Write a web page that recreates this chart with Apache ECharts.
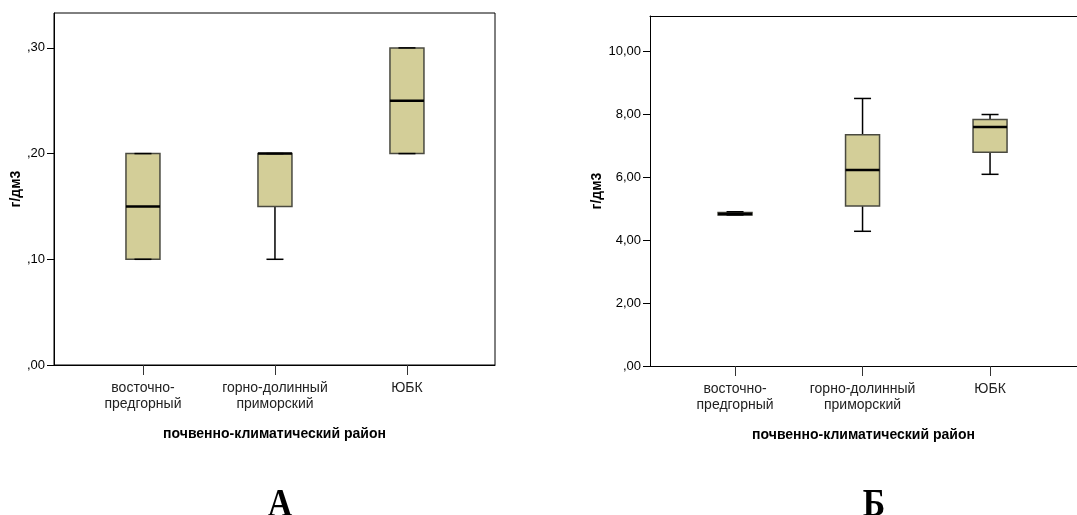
<!DOCTYPE html>
<html>
<head>
<meta charset="utf-8">
<script src="https://cdn.jsdelivr.net/npm/echarts@6/dist/echarts.min.js"></script>
<style>
  html, body { margin: 0; padding: 0; background: #fff; }
  #chart { width: 1077px; height: 515px; }
</style>
</head>
<body>
<div id="chart"></div>
<script>
// районы (категории оси X)
var categories = ['восточно-\nпредгорный', 'горно-долинный\nприморский', 'ЮБК'];

// [min, Q1, медиана, Q3, max] для каждого района
var boxA = [
    [0.10, 0.10, 0.15, 0.20, 0.20],
    [0.10, 0.15, 0.20, 0.20, 0.20],
    [0.20, 0.20, 0.25, 0.30, 0.30]
];
var boxB = [
    [4.80, 4.80, 4.83, 4.88, 4.90],
    [4.28, 5.08, 6.23, 7.35, 8.50],
    [6.09, 6.79, 7.59, 7.83, 7.99]
];

var ticksA = [0, 0.1, 0.2, 0.3];
var ticksB = [0, 2, 4, 6, 8, 10];
var catTicks = [0, 1, 2];

var font = 'Liberation Sans';

function spssNum(v) {
    var s = v.toFixed(2).replace('.', ',');
    if (s.indexOf('0,') === 0) s = s.slice(1);
    return s;
}

function toRows(box) {
    return box.map(function (b, i) { return [i].concat(b); });
}

function renderBox(params, api) {
    var x = api.value(0);
    var pMin = api.coord([x, api.value(1)]);
    var pQ1 = api.coord([x, api.value(2)]);
    var pMed = api.coord([x, api.value(3)]);
    var pQ3 = api.coord([x, api.value(4)]);
    var pMax = api.coord([x, api.value(5)]);
    var cx = pMed[0];
    var bw = 34, cw = 17;
    var line = { stroke: '#000', lineWidth: 1.5 };
    return {
        type: 'group',
        children: [
            { type: 'line', shape: { x1: cx, y1: pQ3[1], x2: cx, y2: pMax[1] }, style: line },
            { type: 'line', shape: { x1: cx, y1: pQ1[1], x2: cx, y2: pMin[1] }, style: line },
            { type: 'rect', shape: { x: cx - bw / 2, y: pQ3[1], width: bw, height: pQ1[1] - pQ3[1] },
              style: { fill: '#d3ce98', stroke: '#4a4a40', lineWidth: 1.5 } },
            { type: 'line', shape: { x1: cx - cw / 2, y1: pMax[1], x2: cx + cw / 2, y2: pMax[1] }, style: line },
            { type: 'line', shape: { x1: cx - cw / 2, y1: pMin[1], x2: cx + cw / 2, y2: pMin[1] }, style: line },
            { type: 'line', shape: { x1: cx - bw / 2, y1: pMed[1], x2: cx + bw / 2, y2: pMed[1] },
              style: { stroke: '#000', lineWidth: 2.5 } }
        ]
    };
}

function xAxisFor(idx, min, max) {
    return {
        gridIndex: idx,
        type: 'value',
        min: min,
        max: max,
        name: 'почвенно-климатический район',
        nameLocation: 'middle',
        nameGap: 62,
        nameTextStyle: { fontFamily: font, fontSize: 14, fontWeight: 'bold', color: '#000' },
        splitLine: { show: false },
        axisLine: { show: true, onZero: false, lineStyle: { color: '#000', width: 1 } },
        axisTick: { show: true, customValues: catTicks, length: 10, lineStyle: { color: '#333', width: 1 } },
        axisLabel: {
            customValues: catTicks,
            margin: 15,
            fontFamily: font,
            fontSize: 14,
            lineHeight: 16,
            color: '#222',
            formatter: function (v) { return categories[Math.round(v)]; }
        }
    };
}

function yAxisFor(idx, max, ticks, gap) {
    return {
        gridIndex: idx,
        type: 'value',
        min: 0,
        max: max,
        name: 'г/дм3',
        nameLocation: 'middle',
        nameGap: gap,
        nameTextStyle: { fontFamily: font, fontSize: 14, fontWeight: 'bold', color: '#000' },
        splitLine: { show: false },
        axisLine: { show: true, onZero: false, lineStyle: { color: '#000', width: 1 } },
        axisTick: { show: true, customValues: ticks, length: 7, lineStyle: { color: '#000', width: 1 } },
        axisLabel: {
            customValues: ticks,
            margin: 9,
            fontFamily: font,
            fontSize: 13,
            color: '#000',
            formatter: spssNum
        }
    };
}

var myChart = echarts.init(document.getElementById('chart'));

var option = {
    backgroundColor: '#fff',
    animation: false,
    grid: [
        { left: 54, top: 13, right: 582, bottom: 150, show: true, borderColor: '#000', borderWidth: 1 },
        // у правой панели рамка справа обрезана краем кадра
        { left: 650, top: 16, right: 0, bottom: 149 }
    ],
    xAxis: [
        xAxisFor(0, -0.674, 2.667),
        xAxisFor(1, -0.667, 2.682),
        {
            gridIndex: 1, type: 'value', position: 'top', min: -0.667, max: 2.682,
            axisLine: { show: true, onZero: false, lineStyle: { color: '#000', width: 1 } },
            axisTick: { show: false }, axisLabel: { show: false }, splitLine: { show: false }
        }
    ],
    yAxis: [
        yAxisFor(0, 0.333, ticksA, 28),
        yAxisFor(1, 11.12, ticksB, 45)
    ],
    series: [
        {
            type: 'custom',
            xAxisIndex: 0,
            yAxisIndex: 0,
            renderItem: renderBox,
            encode: { x: 0, y: [1, 2, 3, 4, 5] },
            data: toRows(boxA)
        },
        {
            type: 'custom',
            xAxisIndex: 1,
            yAxisIndex: 1,
            renderItem: renderBox,
            encode: { x: 0, y: [1, 2, 3, 4, 5] },
            data: toRows(boxB)
        }
    ],
    graphic: [
        { type: 'text', x: 280, y: 486, scaleX: 0.85,
          style: { text: 'А', font: 'bold 40px "Liberation Serif"', fill: '#000', textAlign: 'center', textVerticalAlign: 'top' } },
        { type: 'text', x: 874, y: 486, scaleX: 0.85,
          style: { text: 'Б', font: 'bold 40px "Liberation Serif"', fill: '#000', textAlign: 'center', textVerticalAlign: 'top' } }
    ]
};

myChart.setOption(option);
</script>
</body>
</html>
